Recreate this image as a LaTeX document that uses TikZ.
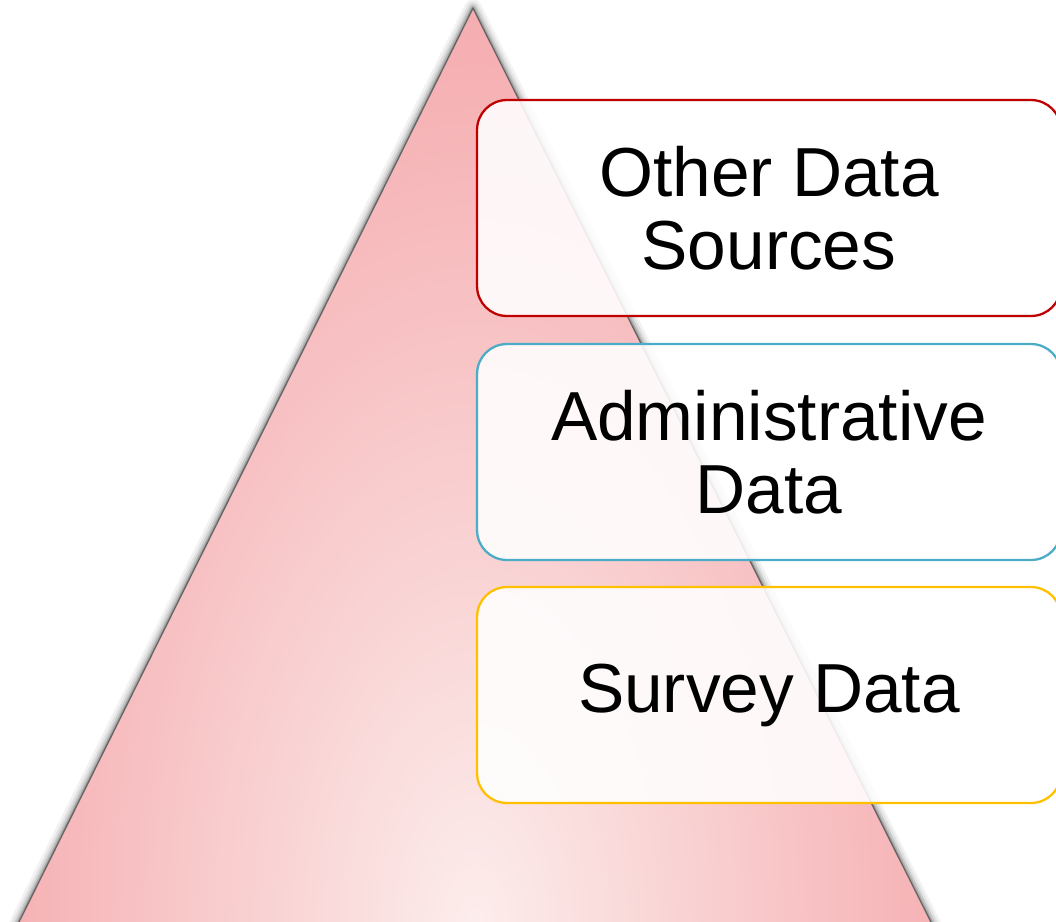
\documentclass[tikz,border=0pt]{standalone}
\usepackage{fontspec}
\setmainfont{Liberation Sans}
\definecolor{boxred}{HTML}{C00000}
\definecolor{boxblue}{HTML}{4BACC6}
\definecolor{boxgold}{HTML}{FFC000}
\definecolor{pyrpink}{HTML}{F4A0A4}
\definecolor{pyrlight}{HTML}{FCEDEC}
\tikzset{databox/.style={draw, line width=1.3pt, rounded corners=17pt,
    fill=white, fill opacity=0.88, text opacity=1,
    minimum width=11.68cm, minimum height=4.32cm, align=center,
    font=\fontsize{39.5}{41.5}\selectfont}}
\begin{document}
\begin{tikzpicture}[x=0.02cm,y=-0.02cm]
        \useasboundingbox (0,0) rectangle (1056,921);
        \coordinate (apex) at (473,8);
        \coordinate (baseL) at (10,940);
        \coordinate (baseR) at (940,940);
        % soft shadow round the pyramid
        \foreach \w/\o in {10/0.05,7/0.07,4.5/0.1,2.5/0.15}
            \draw[line width=\w pt, black, opacity=\o, line join=round] (baseL)--(apex)--(baseR);
        \begin{scope}
            \clip (apex)--(baseL)--(baseR)--cycle;
            \shade[inner color=pyrlight, outer color=pyrpink] (475,930) ellipse [x radius=12cm, y radius=22cm];
        \end{scope}
        \draw[black!60, line width=0.8pt, line join=round] (baseL)--(apex)--(baseR);

        \node[databox, draw=boxred] (other) at (769,208) {Other Data\\Sources};
        \node[databox, draw=boxblue] (admin) at (769,452) {Administrative\\Data};
        \node[databox, draw=boxgold] (survey) at (769,695) {Survey Data};
\end{tikzpicture}
\end{document}
